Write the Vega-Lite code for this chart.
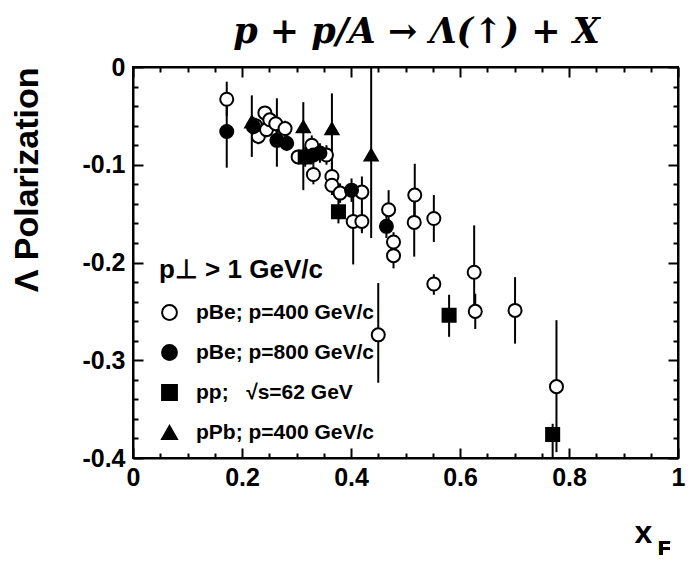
{
  "$schema": "https://vega.github.io/schema/vega-lite/v6.json",
  "width": 545,
  "height": 391,
  "autosize": {"type": "none"},
  "padding": {"left": 133, "top": 67, "right": 15, "bottom": 105},
  "background": "white",
  "title": {
    "text": "p + p/A → Λ(↑) + X",
    "font": "DejaVu Serif",
    "fontSize": 35,
    "fontStyle": "italic",
    "fontWeight": "bold",
    "color": "black",
    "anchor": "middle",
    "baseline": "alphabetic",
    "offset": 23,
    "dy": 46,
    "dx": 11
  },
  "config": {
    "view": {"stroke": "black", "strokeWidth": 2},
    "legend": {
      "titleFont": "Liberation Sans",
      "titleFontSize": 26,
      "titleFontWeight": "bold",
      "titleColor": "black",
      "labelFont": "Liberation Sans",
      "labelFontSize": 21,
      "labelFontWeight": "bold",
      "labelColor": "black",
      "symbolStrokeColor": "black",
      "symbolStrokeWidth": 2,
      "symbolSize": 220,
      "labelLimit": 400,
      "titleLimit": 400
    }
  },
  "data": {
    "values": [
      {"s": "pBe; p=400 GeV/c", "x": 0.172, "y": -0.033, "hi": -0.015, "lo": -0.050},
      {"s": "pBe; p=400 GeV/c", "x": 0.225, "y": -0.060, "hi": -0.052, "lo": -0.068},
      {"s": "pBe; p=400 GeV/c", "x": 0.230, "y": -0.071, "hi": -0.063, "lo": -0.079},
      {"s": "pBe; p=400 GeV/c", "x": 0.242, "y": -0.047, "hi": -0.041, "lo": -0.053},
      {"s": "pBe; p=400 GeV/c", "x": 0.245, "y": -0.064, "hi": -0.056, "lo": -0.072},
      {"s": "pBe; p=400 GeV/c", "x": 0.251, "y": -0.054, "hi": -0.048, "lo": -0.060},
      {"s": "pBe; p=400 GeV/c", "x": 0.262, "y": -0.058, "hi": -0.050, "lo": -0.066},
      {"s": "pBe; p=400 GeV/c", "x": 0.272, "y": -0.072, "hi": -0.064, "lo": -0.080},
      {"s": "pBe; p=400 GeV/c", "x": 0.279, "y": -0.063, "hi": -0.055, "lo": -0.071},
      {"s": "pBe; p=400 GeV/c", "x": 0.303, "y": -0.092, "hi": -0.086, "lo": -0.098},
      {"s": "pBe; p=400 GeV/c", "x": 0.328, "y": -0.080, "hi": -0.070, "lo": -0.090},
      {"s": "pBe; p=400 GeV/c", "x": 0.331, "y": -0.110, "hi": -0.100, "lo": -0.120},
      {"s": "pBe; p=400 GeV/c", "x": 0.355, "y": -0.090, "hi": -0.080, "lo": -0.100},
      {"s": "pBe; p=400 GeV/c", "x": 0.365, "y": -0.112, "hi": -0.097, "lo": -0.127},
      {"s": "pBe; p=400 GeV/c", "x": 0.365, "y": -0.121, "hi": -0.111, "lo": -0.131},
      {"s": "pBe; p=400 GeV/c", "x": 0.380, "y": -0.129, "hi": -0.119, "lo": -0.139},
      {"s": "pBe; p=400 GeV/c", "x": 0.404, "y": -0.158, "hi": -0.128, "lo": -0.202},
      {"s": "pBe; p=400 GeV/c", "x": 0.420, "y": -0.158, "hi": -0.146, "lo": -0.170},
      {"s": "pBe; p=400 GeV/c", "x": 0.420, "y": -0.128, "hi": -0.112, "lo": -0.168},
      {"s": "pBe; p=400 GeV/c", "x": 0.450, "y": -0.274, "hi": -0.221, "lo": -0.323},
      {"s": "pBe; p=400 GeV/c", "x": 0.469, "y": -0.146, "hi": -0.126, "lo": -0.160},
      {"s": "pBe; p=400 GeV/c", "x": 0.478, "y": -0.179, "hi": -0.169, "lo": -0.189},
      {"s": "pBe; p=400 GeV/c", "x": 0.478, "y": -0.193, "hi": -0.180, "lo": -0.206},
      {"s": "pBe; p=400 GeV/c", "x": 0.517, "y": -0.131, "hi": -0.099, "lo": -0.160},
      {"s": "pBe; p=400 GeV/c", "x": 0.516, "y": -0.159, "hi": -0.130, "lo": -0.194},
      {"s": "pBe; p=400 GeV/c", "x": 0.552, "y": -0.155, "hi": -0.131, "lo": -0.179},
      {"s": "pBe; p=400 GeV/c", "x": 0.552, "y": -0.222, "hi": -0.212, "lo": -0.233},
      {"s": "pBe; p=400 GeV/c", "x": 0.626, "y": -0.210, "hi": -0.162, "lo": -0.250},
      {"s": "pBe; p=400 GeV/c", "x": 0.628, "y": -0.250, "hi": -0.232, "lo": -0.268},
      {"s": "pBe; p=400 GeV/c", "x": 0.701, "y": -0.249, "hi": -0.215, "lo": -0.283},
      {"s": "pBe; p=400 GeV/c", "x": 0.777, "y": -0.327, "hi": -0.259, "lo": -0.394},
      {"s": "pBe; p=800 GeV/c", "x": 0.172, "y": -0.066, "hi": -0.030, "lo": -0.103},
      {"s": "pBe; p=800 GeV/c", "x": 0.221, "y": -0.061, "hi": -0.051, "lo": -0.071},
      {"s": "pBe; p=800 GeV/c", "x": 0.264, "y": -0.075, "hi": -0.032, "lo": -0.102},
      {"s": "pBe; p=800 GeV/c", "x": 0.282, "y": -0.078, "hi": -0.070, "lo": -0.086},
      {"s": "pBe; p=800 GeV/c", "x": 0.331, "y": -0.090, "hi": -0.080, "lo": -0.100},
      {"s": "pBe; p=800 GeV/c", "x": 0.343, "y": -0.088, "hi": -0.078, "lo": -0.098},
      {"s": "pBe; p=800 GeV/c", "x": 0.401, "y": -0.126, "hi": -0.114, "lo": -0.138},
      {"s": "pBe; p=800 GeV/c", "x": 0.465, "y": -0.163, "hi": -0.151, "lo": -0.175},
      {"s": "pp;\u00a0\u00a0 √s=62 GeV", "x": 0.316, "y": -0.092, "hi": -0.082, "lo": -0.102},
      {"s": "pp;\u00a0\u00a0 √s=62 GeV", "x": 0.377, "y": -0.148, "hi": -0.136, "lo": -0.160},
      {"s": "pp;\u00a0\u00a0 √s=62 GeV", "x": 0.580, "y": -0.254, "hi": -0.233, "lo": -0.276},
      {"s": "pp;\u00a0\u00a0 √s=62 GeV", "x": 0.770, "y": -0.376, "hi": -0.365, "lo": -0.399},
      {"s": "pPb; p=400 GeV/c", "x": 0.218, "y": -0.056, "hi": -0.029, "lo": -0.092},
      {"s": "pPb; p=400 GeV/c", "x": 0.3125, "y": -0.061, "hi": -0.036, "lo": -0.126},
      {"s": "pPb; p=400 GeV/c", "x": 0.365, "y": -0.063, "hi": -0.027, "lo": -0.110},
      {"s": "pPb; p=400 GeV/c", "x": 0.437, "y": -0.090, "hi": -0.001, "lo": -0.175}
    ]
  },
  "resolve": {"axis": {"x": "independent", "y": "independent"}},
  "layer": [
    {
      "mark": {"type": "rule", "stroke": "black", "strokeWidth": 2},
      "encoding": {
        "x": {
          "field": "x", "type": "quantitative",
          "scale": {"domain": [0, 1], "nice": false, "zero": false},
          "axis": {
            "orient": "bottom",
            "values": [0, 0.05, 0.1, 0.15, 0.2, 0.25, 0.3, 0.35, 0.4, 0.45, 0.5, 0.55, 0.6, 0.65, 0.7, 0.75, 0.8, 0.85, 0.9, 0.95, 1],
            "labelExpr": "abs(datum.value*5 - round(datum.value*5)) < 1e-6 ? (datum.value == 0 ? '0' : (datum.value > 0.99 ? '1' : '0.' + round(datum.value*10))) : ''",
            "tickSize": {"condition": {"test": "abs(datum.value*5 - round(datum.value*5)) < 1e-6", "value": -10}, "value": -5},
            "tickColor": "black", "tickWidth": 2,
            "domain": true, "domainColor": "black", "domainWidth": 2,
            "grid": false,
            "labelFont": "Liberation Sans", "labelFontWeight": "bold", "labelFontSize": 25, "labelColor": "black",
            "labelPadding": 17, "labelFlush": false, "labelOverlap": false,
            "title": "x",
            "titleFont": "Liberation Sans", "titleFontWeight": "bold", "titleFontSize": 32, "titleColor": "black",
            "titleX": 510, "titleY": 84, "titleAlign": "center", "titleBaseline": "alphabetic", "titleAnchor": null
          }
        },
        "y": {
          "field": "hi", "type": "quantitative",
          "scale": {"domain": [-0.4, 0], "nice": false, "zero": false},
          "axis": {
            "orient": "left",
            "values": [0, -0.02, -0.04, -0.06, -0.08, -0.1, -0.12, -0.14, -0.16, -0.18, -0.2, -0.22, -0.24, -0.26, -0.28, -0.3, -0.32, -0.34, -0.36, -0.38, -0.4],
            "labelExpr": "abs(datum.value*10 - round(datum.value*10)) < 1e-6 ? (abs(datum.value) < 1e-6 ? '0' : '-0.' + round(-datum.value*10)) : ''",
            "tickSize": {"condition": {"test": "abs(datum.value*10 - round(datum.value*10)) < 1e-6", "value": -10}, "value": -5},
            "tickColor": "black", "tickWidth": 2,
            "domain": true, "domainColor": "black", "domainWidth": 2,
            "grid": false,
            "labelFont": "Liberation Sans", "labelFontWeight": "bold", "labelFontSize": 25, "labelColor": "black",
            "labelPadding": 18, "labelFlush": false, "labelOverlap": false,
            "title": "Λ Polarization",
            "titleFont": "Liberation Sans", "titleFontWeight": "bold", "titleFontSize": 34, "titleColor": "black",
            "titleX": -106, "titleY": 0, "titleAngle": -90, "titleAlign": "right", "titleBaseline": "middle", "titleAnchor": null
          }
        },
        "y2": {"field": "lo"}
      }
    },
    {
      "mark": {"type": "point", "filled": true, "stroke": "black", "strokeWidth": 2, "size": 170, "opacity": 1},
      "encoding": {
        "x": {
          "field": "x", "type": "quantitative",
          "axis": {
            "orient": "top",
            "values": [0, 0.05, 0.1, 0.15, 0.2, 0.25, 0.3, 0.35, 0.4, 0.45, 0.5, 0.55, 0.6, 0.65, 0.7, 0.75, 0.8, 0.85, 0.9, 0.95, 1],
            "labels": false, "title": null, "grid": false,
            "tickSize": {"condition": {"test": "abs(datum.value*5 - round(datum.value*5)) < 1e-6", "value": -10}, "value": -5},
            "tickColor": "black", "tickWidth": 2,
            "domain": true, "domainColor": "black", "domainWidth": 2
          }
        },
        "y": {
          "field": "y", "type": "quantitative",
          "axis": {
            "orient": "right",
            "values": [0, -0.02, -0.04, -0.06, -0.08, -0.1, -0.12, -0.14, -0.16, -0.18, -0.2, -0.22, -0.24, -0.26, -0.28, -0.3, -0.32, -0.34, -0.36, -0.38, -0.4],
            "labels": false, "title": null, "grid": false,
            "tickSize": {"condition": {"test": "abs(datum.value*10 - round(datum.value*10)) < 1e-6", "value": -10}, "value": -5},
            "tickColor": "black", "tickWidth": 2,
            "domain": true, "domainColor": "black", "domainWidth": 2
          }
        },
        "shape": {
          "field": "s", "type": "nominal",
          "scale": {
            "domain": ["pBe; p=400 GeV/c", "pBe; p=800 GeV/c", "pp;\u00a0\u00a0 √s=62 GeV", "pPb; p=400 GeV/c"],
            "range": ["circle", "circle", "square", "triangle-up"]
          },
          "legend": {
            "orient": "none", "legendX": 26, "legendY": 190,
            "title": "\u00a0p⊥ > 1 GeV/c",
            "titlePadding": 19, "rowPadding": 17, "labelOffset": 16,
            "symbolSize": 220, "symbolStrokeColor": "black", "symbolStrokeWidth": 2
          }
        },
        "fill": {
          "field": "s", "type": "nominal",
          "scale": {
            "domain": ["pBe; p=400 GeV/c", "pBe; p=800 GeV/c", "pp;\u00a0\u00a0 √s=62 GeV", "pPb; p=400 GeV/c"],
            "range": ["white", "black", "black", "black"]
          },
          "legend": {
            "orient": "none", "legendX": 26, "legendY": 190,
            "title": "\u00a0p⊥ > 1 GeV/c",
            "titlePadding": 19, "rowPadding": 17, "labelOffset": 16,
            "symbolSize": 220, "symbolStrokeColor": "black", "symbolStrokeWidth": 2
          }
        },
        "stroke": {
          "field": "s", "type": "nominal",
          "scale": {
            "domain": ["pBe; p=400 GeV/c", "pBe; p=800 GeV/c", "pp;\u00a0\u00a0 √s=62 GeV", "pPb; p=400 GeV/c"],
            "range": ["black", "black", "black", "black"]
          },
          "legend": {
            "orient": "none", "legendX": 26, "legendY": 190,
            "title": "\u00a0p⊥ > 1 GeV/c",
            "titlePadding": 19, "rowPadding": 17, "labelOffset": 16,
            "symbolSize": 220, "symbolStrokeColor": "black", "symbolStrokeWidth": 2
          }
        }
      }
    },
    {
      "mark": {"type": "text", "text": "F", "font": "Liberation Sans", "fontWeight": "bold", "fontSize": 20, "color": "black", "align": "center", "baseline": "alphabetic", "dx": -14, "dy": 97},
      "encoding": {
        "x": {"datum": 1, "type": "quantitative", "axis": null},
        "y": {"datum": -0.4, "type": "quantitative", "axis": null}
      }
    }
  ]
}
